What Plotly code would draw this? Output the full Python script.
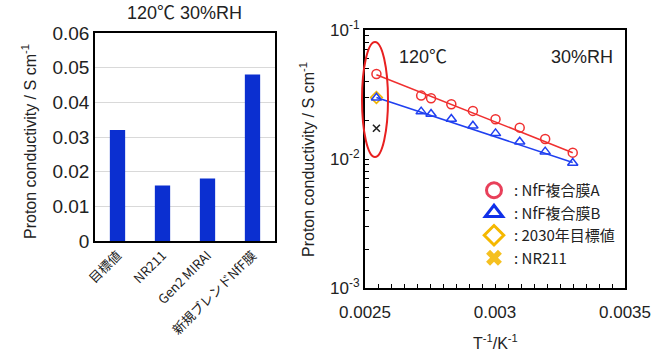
import plotly.graph_objects as go

# ---- data: left bar chart ----
bar_categories = ["目標値", "NR211", "Gen2 MIRAI", "新規ブレンドNfF膜"]
bar_values = [0.032, 0.016, 0.018, 0.048]
bar_ticks = [0, 0.01, 0.02, 0.03, 0.04, 0.05, 0.06]
bar_ticktext = ["0", "0.01", "0.02", "0.03", "0.04", "0.05", "0.06"]

# ---- data: right Arrhenius plot ----
inv_T = [0.002544, 0.002716, 0.002754, 0.002832, 0.002915, 0.003002, 0.003095, 0.003193, 0.003299]
sigma_A = [0.0456, 0.0310, 0.0296, 0.0266, 0.0236, 0.0203, 0.0175, 0.0143, 0.0112]
sigma_B = [0.0298, 0.0233, 0.0223, 0.0204, 0.0181, 0.0158, 0.0136, 0.0114, 0.0093]
fit_x = [0.002544, 0.003299]
fit_A = [0.0450, 0.0112]
fit_B = [0.0300, 0.0094]
target_x = [0.002544]
target_y = [0.0300]
nr211_x = [0.002544]
nr211_y = [0.0173]
x2_ticks = [0.0025, 0.003, 0.0035]
x2_ticktext = ["0.0025", "0.003", "0.0035"]
y2_ticks = [0.001, 0.01, 0.1]
y2_ticktext = ["10<sup>-3</sup>", "10<sup>-2</sup>", "10<sup>-1</sup>"]

legend_names = [": NfF複合膜A", ": NfF複合膜B", ": 2030年目標値", ": NR211"]

FONT = "Liberation Sans, Arial, Noto Sans CJK JP"
JP = "Noto Sans CJK JP, Liberation Sans"

fig = go.Figure()

fig.add_trace(go.Bar(x=bar_categories, y=bar_values, marker_color="#0b2fd0",
                     marker_line_width=0, xaxis="x", yaxis="y", showlegend=False))

# right chart
fig.add_trace(go.Scatter(x=fit_x, y=fit_A, mode="lines", line=dict(color="#f03030", width=1.6),
                         xaxis="x2", yaxis="y2", showlegend=False))
fig.add_trace(go.Scatter(x=fit_x, y=fit_B, mode="lines", line=dict(color="#2040f0", width=1.6),
                         xaxis="x2", yaxis="y2", showlegend=False))
fig.add_trace(go.Scatter(x=target_x, y=target_y, mode="markers",
                         marker=dict(symbol="diamond-open", size=9, color="#f2b400", line=dict(width=1.6)),
                         xaxis="x2", yaxis="y2", showlegend=False))
fig.add_trace(go.Scatter(x=inv_T, y=sigma_A, mode="markers",
                         marker=dict(symbol="circle-open", size=9, color="#f03030", line=dict(width=1.5)),
                         xaxis="x2", yaxis="y2", showlegend=False))
fig.add_trace(go.Scatter(x=inv_T, y=sigma_B, mode="markers",
                         marker=dict(symbol="triangle-up-open", size=9, color="#2040f0", line=dict(width=1.5)),
                         xaxis="x2", yaxis="y2", showlegend=False))
fig.add_trace(go.Scatter(x=nr211_x, y=nr211_y, mode="markers",
                         marker=dict(symbol="x-thin-open", size=7, color="#222222", line=dict(width=1.6)),
                         xaxis="x2", yaxis="y2", showlegend=False))

# legend entries
leg_styles = [
    dict(symbol="circle-open", size=15, color="#e8405a", line=dict(width=3)),
    dict(symbol="triangle-up-open", size=15, color="#1030e8", line=dict(width=3)),
    dict(symbol="diamond-open", size=15, color="#f5b800", line=dict(width=3)),
    dict(symbol="x", size=14, color="#f5c020", line=dict(width=0)),
]
for name, st in zip(legend_names, leg_styles):
    fig.add_trace(go.Scatter(x=[None], y=[None], mode="markers", marker=st, name=name,
                             xaxis="x2", yaxis="y2", showlegend=True))

W, H = 653, 354


def ann(text, px, py, size, angle=0):
    return dict(text=text, x=px / W, y=1 - py / H, xref="paper", yref="paper",
                xanchor="center", yanchor="middle", textangle=angle,
                showarrow=False, font=dict(size=size, color="#222"))


fig.update_layout(
    width=W, height=H,
    margin=dict(l=0, r=0, t=0, b=0),
    paper_bgcolor="white", plot_bgcolor="white",
    font=dict(family=FONT, color="#222222"),
    bargap=0.66,
    xaxis=dict(domain=[95 / W, 275 / W], anchor="y", showline=True, linecolor="black", linewidth=1.5,
               mirror=True, ticks="", tickangle=-45, automargin=False,
               tickfont=dict(size=13, family=JP, color="#222")),
    yaxis=dict(domain=[1 - 241 / H, 1 - 33 / H], anchor="x", range=[0, 0.06],
               tickvals=bar_ticks, ticktext=bar_ticktext, automargin=False,
               showline=True, linecolor="black", linewidth=1.5, mirror=True,
               showgrid=True, gridcolor="#d9d9d9", gridwidth=1, zeroline=False,
               tickfont=dict(size=19, color="#222"), ticks=""),
    xaxis2=dict(domain=[365 / W, 625 / W], anchor="y2", range=[0.0025, 0.0035],
                tickvals=x2_ticks, ticktext=x2_ticktext, automargin=False, ticklabelstandoff=8,
                showline=True, linecolor="black", linewidth=2, mirror=True, showgrid=False, zeroline=False,
                ticks="inside", ticklen=4, tickcolor="black",
                minor=dict(dtick=0.00005, ticks="inside", ticklen=4, tickcolor="black", showgrid=False),
                tickfont=dict(size=17, color="#222")),
    yaxis2=dict(domain=[1 - 288 / H, 1 - 30 / H], anchor="x2", type="log", range=[-3, -1],
                tickvals=y2_ticks, ticktext=y2_ticktext, automargin=False,
                showline=True, linecolor="black", linewidth=2, mirror=True, showgrid=False, zeroline=False,
                ticks="inside", ticklen=4, tickcolor="black",
                minor=dict(dtick="D1", ticks="inside", ticklen=4, tickcolor="black", showgrid=False),
                tickfont=dict(size=17, color="#222")),
    legend=dict(x=474 / W, y=1 - 174 / H, xanchor="left", yanchor="top", bgcolor="rgba(0,0,0,0)",
                font=dict(size=15, family=JP, color="#222"), itemwidth=30, tracegroupgap=0),
    shapes=[dict(type="circle", xref="x2 domain", yref="y2 domain",
                 x0=(362 - 365) / 260, x1=(388 - 365) / 260,
                 y0=(288 - 157) / 258, y1=(288 - 42) / 258,
                 line=dict(color="#e82020", width=2))],
    annotations=[
        ann("120℃ 30%RH", 184, 13, 18),
        ann("Proton conductivity / S cm<sup>-1</sup>", 29, 142, 16, -90),
        ann("Proton conductivity / S cm<sup>-1</sup>", 307, 160, 16, -90),
        ann("T<sup>-1</sup>/K<sup>-1</sup>", 495, 342, 16),
        ann("120℃", 423, 57, 18),
        ann("30%RH", 582, 57, 18),
    ],
)

fig.write_html("out.html")
